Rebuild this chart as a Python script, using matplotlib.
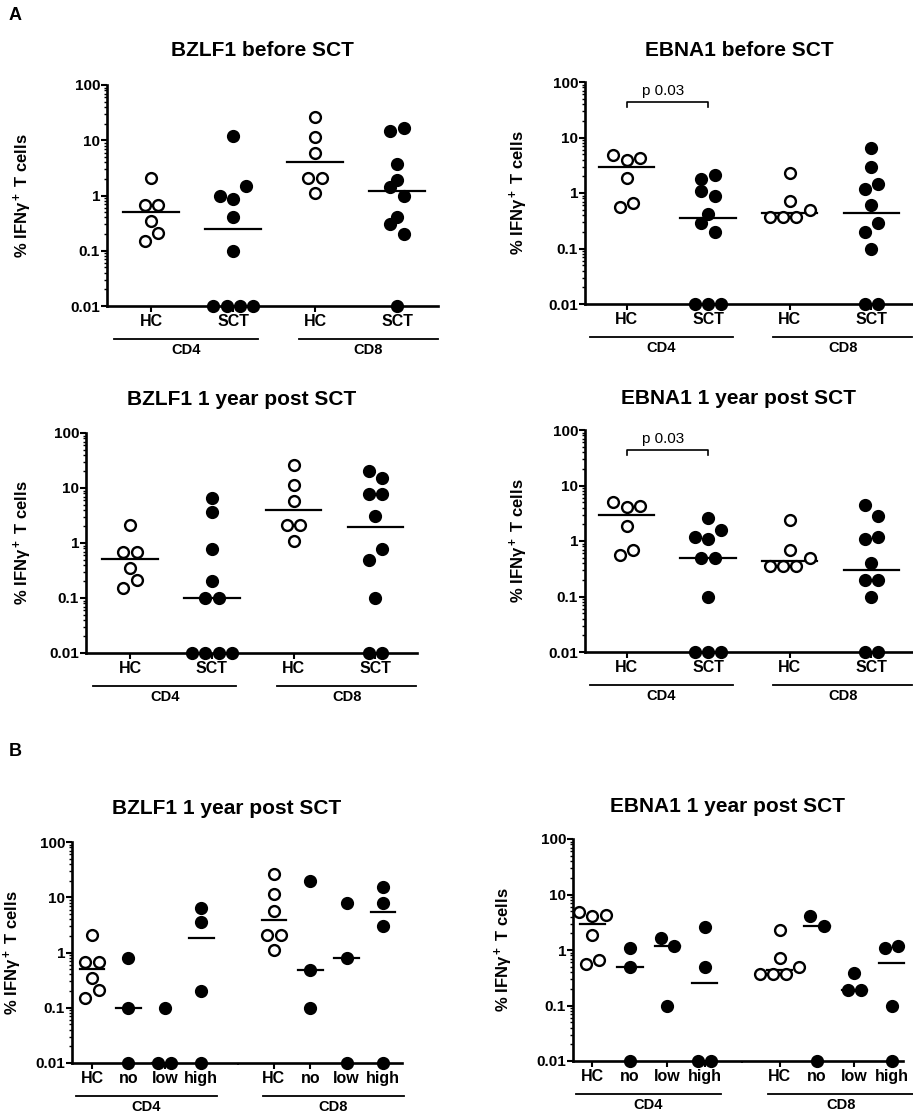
import numpy as np
import matplotlib.pyplot as plt
from matplotlib import transforms as mtransforms
from matplotlib.ticker import LogLocator, NullFormatter

plt.rcParams['font.family'] = ['Liberation Sans', 'DejaVu Sans']
plt.rcParams['mathtext.fontset'] = 'custom'
plt.rcParams['mathtext.rm'] = 'Liberation Sans:bold'
plt.rcParams['mathtext.it'] = 'Liberation Sans:bold'
plt.rcParams['mathtext.bf'] = 'Liberation Sans:bold'

# ---- data (% IFNg+ T cells) ----
# A: BZLF1 before SCT
bz_pre_cd4_hc = [2.1, 0.67, 0.67, 0.34, 0.15, 0.21]
bz_pre_cd4_sct = [12, 1.0, 0.88, 1.5, 0.4, 0.1, 0.01, 0.01, 0.01, 0.01]
bz_pre_cd8_hc = [26.5, 11.5, 5.9, 2.1, 2.1, 1.1]
bz_pre_cd8_sct = [15, 16.5, 3.66, 1.9, 1.42, 1.0, 0.41, 0.30, 0.2, 0.01]
# A: EBNA1 before SCT
eb_pre_cd4_hc = [4.9, 4.0, 4.26, 1.86, 0.56, 0.67]
eb_pre_cd4_sct = [1.81, 2.08, 1.09, 0.9, 0.41, 0.29, 0.2, 0.01, 0.01, 0.01]
eb_pre_cd8_hc = [2.32, 0.71, 0.37, 0.37, 0.37, 0.5]
eb_pre_cd8_sct = [6.45, 2.94, 1.2, 1.47, 0.6, 0.2, 0.29, 0.1, 0.01, 0.01]
# A: BZLF1 1 year post SCT
bz_1y_cd4_hc = [2.1, 0.68, 0.68, 0.35, 0.15, 0.21]
bz_1y_cd4_sct = [6.45, 3.6, 0.79, 0.2, 0.1, 0.1, 0.01, 0.01, 0.01, 0.01]
bz_1y_cd8_hc = [26.5, 11.5, 5.9, 2.1, 2.1, 1.1]
bz_1y_cd8_sct = [20.2, 15.5, 7.8, 7.8, 3.09, 0.5, 0.79, 0.1, 0.01, 0.01]
# A: EBNA1 1 year post SCT
eb_1y_cd4_hc = [5.0, 4.1, 4.27, 1.89, 0.57, 0.69]
eb_1y_cd4_sct = [2.6, 1.18, 1.1, 1.6, 0.5, 0.5, 0.1, 0.01, 0.01, 0.01]
eb_1y_cd8_hc = [2.36, 0.70, 0.36, 0.36, 0.36, 0.5]
eb_1y_cd8_sct = [4.5, 2.8, 1.1, 1.18, 0.4, 0.2, 0.2, 0.1, 0.01, 0.01]
# B: BZLF1 1 year post SCT by group
bz_b_cd4 = {'HC': [2.1, 0.67, 0.67, 0.34, 0.15, 0.21],
            'no': [0.79, 0.1, 0.01],
            'low': [0.1, 0.01, 0.01],
            'high': [6.3, 3.5, 0.2, 0.01]}
bz_b_cd8 = {'HC': [26, 11.5, 5.6, 2.1, 2.1, 1.1],
            'no': [20, 0.49, 0.1],
            'low': [7.8, 0.78, 0.01],
            'high': [15.5, 7.8, 3.0, 0.01]}
# B: EBNA1 1 year post SCT by group
eb_b_cd4 = {'HC': [4.9, 4.1, 4.26, 1.89, 0.55, 0.67],
            'no': [1.07, 0.49, 0.01],
            'low': [1.62, 1.16, 0.1],
            'high': [2.56, 0.49, 0.01, 0.01]}
eb_b_cd8 = {'HC': [2.29, 0.71, 0.37, 0.37, 0.37, 0.5],
            'no': [4.1, 2.74, 0.01],
            'low': [0.39, 0.19, 0.19],
            'high': [1.07, 1.16, 0.1, 0.01]}

a_labels = ['HC', 'SCT', 'HC', 'SCT']
b_labels = ['HC', 'no', 'low', 'high', 'HC', 'no', 'low', 'high']

W, H = 913, 1115
fig = plt.figure(figsize=(W / 100, H / 100), dpi=100)


def px_box(left, right, top, bottom):
    return [left / W, 1 - bottom / H, (right - left) / W, (bottom - top) / H]


def spread(vals, d, thr=0.24):
    # GraphPad-like scatter: points close in log(y) share a row, centred
    logv = np.log10(vals)
    order = sorted(range(len(vals)), key=lambda i: (logv[i], i))
    rows = []
    for i in order:
        if rows and logv[i] - logv[rows[-1][0]] < thr:
            rows[-1].append(i)
        else:
            rows.append([i])
    off = np.zeros(len(vals))
    for r in rows:
        r = sorted(r)
        for k, i in enumerate(r):
            off[i] = (k - (len(r) - 1) / 2) * d
    return off


def draw_panel(box, xlim, positions, labels, groups, title, title_xy, ylab_px,
               group_lines, pval=False, gap_tick=None):
    ax = fig.add_axes(px_box(*box))
    ax.set_yscale('log')
    ax.set_ylim(0.01, 100)
    ax.set_xlim(*xlim)
    ppu = (box[1] - box[0]) / (xlim[1] - xlim[0])
    d = 13.3 / ppu

    for x, lab, vals in zip(positions, labels, groups):
        vals = np.asarray(vals, float)
        off = spread(vals, d)
        face = 'white' if lab == 'HC' else 'black'
        ax.plot(x + off, vals, 'o', ms=7.8, mew=1.7, mfc=face, mec='black',
                clip_on=False, zorder=4)
        med = np.median(vals)
        ax.plot([x - 0.34, x + 0.34], [med, med], color='black', lw=1.6,
                zorder=3, clip_on=False)

    for s in ['top', 'right']:
        ax.spines[s].set_visible(False)
    for s in ['left', 'bottom']:
        ax.spines[s].set_linewidth(1.9)

    ax.set_xticks(positions)
    ax.set_xticklabels(labels, fontsize=11.5, fontweight='bold')
    ax.tick_params(axis='x', which='major', length=4, width=1.5, pad=2)
    if gap_tick is not None:
        ax.set_xticks([gap_tick], minor=True)
        ax.tick_params(axis='x', which='minor', length=1.5, width=1.2)

    ax.set_yticks([0.01, 0.1, 1, 10, 100])
    ax.set_yticklabels(['0.01', '0.1', '1', '10', '100'], fontsize=11,
                       fontweight='bold')
    ax.yaxis.set_minor_locator(LogLocator(base=10, subs=np.arange(2, 10), numticks=12))
    ax.yaxis.set_minor_formatter(NullFormatter())
    ax.tick_params(axis='y', which='major', length=4, width=1.5, pad=1)
    ax.tick_params(axis='y', which='minor', length=2.5, width=1.0)

    ax.set_ylabel('% IFNγ$^+$ T cells', fontsize=12, fontweight='bold')
    ax.yaxis.set_label_coords(-ylab_px / (box[1] - box[0]), 0.5)

    fig.text(title_xy[0] / W, 1 - title_xy[1] / H, title, ha='center',
             va='center', fontsize=15, fontweight='bold')

    base = mtransforms.blended_transform_factory(ax.transData, ax.transAxes)
    line_tr = base + mtransforms.ScaledTranslation(0, -0.33, fig.dpi_scale_trans)
    text_tr = base + mtransforms.ScaledTranslation(0, -0.44, fig.dpi_scale_trans)
    for name, (x0, x1) in group_lines.items():
        ax.plot([x0, x1], [0, 0], color='black', lw=1.3, transform=line_tr,
                clip_on=False)
        ax.text((x0 + x1) / 2, 0, name, ha='center', va='center', fontsize=10.5,
                fontweight='bold', transform=text_tr)

    if pval:
        ax.plot([0, 0, 1, 1], [35, 44, 44, 35], color='black', lw=1.2,
                clip_on=False)
        ax.text(0.45, 52, 'p 0.03', ha='center', va='bottom', fontsize=11)
    return ax


a_pos = [0, 1, 2, 3]
a_lines = {'CD4': (-0.45, 1.3), 'CD8': (1.8, 3.5)}
b_pos = [0, 1, 2, 3, 5, 6, 7, 8]
b_lines = {'CD4': (-0.45, 3.43), 'CD8': (4.7, 8.57)}

draw_panel((107, 438, 85, 306), (-0.54, 3.5), a_pos, a_labels,
           [bz_pre_cd4_hc, bz_pre_cd4_sct, bz_pre_cd8_hc, bz_pre_cd8_sct],
           'BZLF1 before SCT', (262, 51), 73, a_lines)
draw_panel((585, 912, 82, 304), (-0.51, 3.5), a_pos, a_labels,
           [eb_pre_cd4_hc, eb_pre_cd4_sct, eb_pre_cd8_hc, eb_pre_cd8_sct],
           'EBNA1 before SCT', (739, 50), 55, a_lines, pval=True)
draw_panel((86, 417, 433, 653), (-0.54, 3.51), a_pos, a_labels,
           [bz_1y_cd4_hc, bz_1y_cd4_sct, bz_1y_cd8_hc, bz_1y_cd8_sct],
           'BZLF1 1 year post SCT', (242, 400), 52, a_lines)
draw_panel((585, 912, 430, 652), (-0.51, 3.5), a_pos, a_labels,
           [eb_1y_cd4_hc, eb_1y_cd4_sct, eb_1y_cd8_hc, eb_1y_cd8_sct],
           'EBNA1 1 year post SCT', (738, 398), 55, a_lines, pval=True)
draw_panel((72, 402, 842, 1063), (-0.55, 8.52), b_pos, b_labels,
           list(bz_b_cd4.values()) + list(bz_b_cd8.values()),
           'BZLF1 1 year post SCT', (227, 809), 48, b_lines, gap_tick=4)
draw_panel((573, 903, 839, 1061), (-0.52, 8.3), b_pos, b_labels,
           list(eb_b_cd4.values()) + list(eb_b_cd8.values()),
           'EBNA1 1 year post SCT', (727, 807), 58, b_lines, gap_tick=4)

fig.text(15 / W, 1 - 15 / H, 'A', ha='center', va='center', fontsize=13,
         fontweight='bold')
fig.text(15 / W, 1 - 752 / H, 'B', ha='center', va='center', fontsize=13,
         fontweight='bold')

fig.savefig('out.png', dpi=100)
